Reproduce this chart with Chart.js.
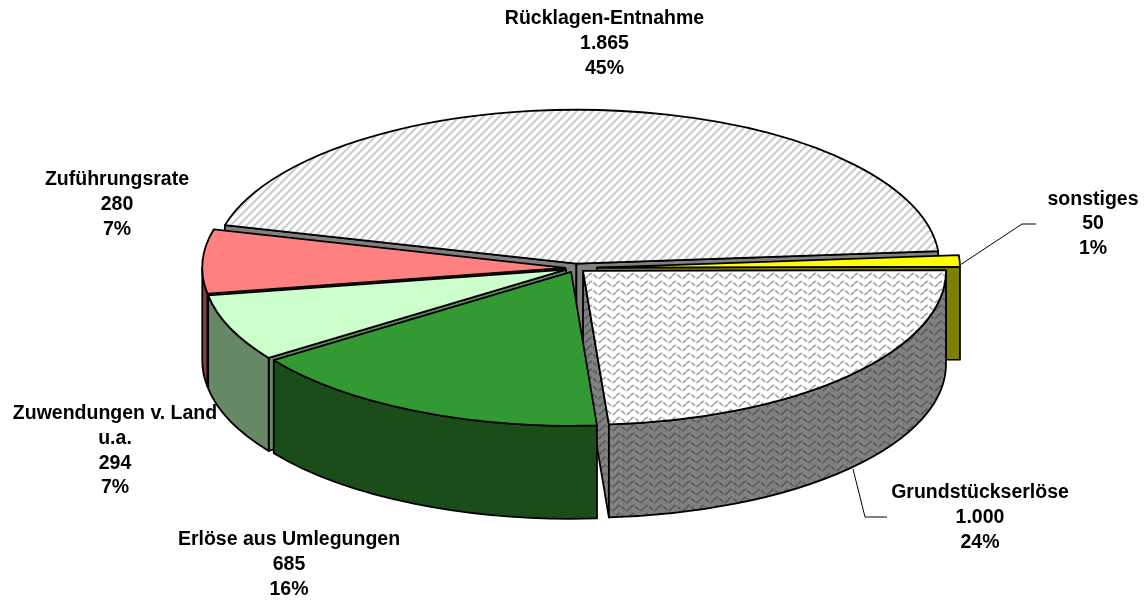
<!DOCTYPE html>
<html>
<head>
<meta charset="utf-8">
<title>Einnahmen</title>
<script src="https://cdn.jsdelivr.net/npm/chart.js@4"></script>
<style>
  body { margin: 0; background: #fff; }
  #wrap { width: 1146px; height: 601px; position: relative; }
</style>
</head>
<body>
<div id="wrap"><canvas id="pie"></canvas></div>
<script>
const sliceNames = ['Rücklagen-Entnahme', 'sonstiges', 'Grundstückserlöse', 'Erlöse aus Umlegungen', 'Zuwendungen v. Land u.a.', 'Zuführungsrate'];
const sliceValues = [1865, 50, 1000, 685, 294, 280];
const labelLines = [['Rücklagen-Entnahme'], ['sonstiges'], ['Grundstückserlöse'], ['Erlöse aus Umlegungen'], ['Zuwendungen v. Land', 'u.a.'], ['Zuführungsrate']];
const labelAnchors = [[604.5, 19], [1093, 199.5], [980, 493], [289, 540], [115, 414], [117, 180]];
const topColors = ['hatch', '#ffff00', 'waveLight', '#339933', '#ccffcc', '#ff8080'];
const sideColors = ['#808080', '#808000', 'waveDark', '#1a4d1a', '#668866', '#804040'];
const explode = [41, 86, 41, 41, 41, 41];

const tilt = 0.424;
const depth = 93;
const LINE_H = 24.6;

function makePattern(ctx, w, h, bg, draw) {
  const c = document.createElement('canvas');
  c.width = w;
  c.height = h;
  const g = c.getContext('2d');
  g.fillStyle = bg;
  g.fillRect(0, 0, w, h);
  draw(g);
  return ctx.createPattern(c, 'repeat');
}

function wave(g, color) {
  g.strokeStyle = color;
  g.lineWidth = 1.7;
  g.setLineDash([5, 1.6]);
  g.beginPath();
  g.moveTo(0, 4);
  g.bezierCurveTo(3.5, 0.5, 3.5, 0.5, 7, 4);
  g.bezierCurveTo(10.5, 7.5, 10.5, 7.5, 14, 4);
  g.stroke();
}

function getFills(ctx) {
  return {
    hatch: makePattern(ctx, 8, 8, '#ffffff', g => {
      g.strokeStyle = '#cccccc';
      g.lineWidth = 2.2;
      g.beginPath();
      g.moveTo(-2, 10); g.lineTo(10, -2);
      g.moveTo(-6, 6); g.lineTo(6, -6);
      g.moveTo(2, 14); g.lineTo(14, 2);
      g.stroke();
    }),
    waveLight: makePattern(ctx, 14, 8, '#ffffff', g => wave(g, '#a0a0a0')),
    waveDark: makePattern(ctx, 14, 8, '#808080', g => wave(g, '#585858'))
  };
}

const pie3d = {
  id: 'pie3d',
  beforeDatasetDraw(chart) {
    const ctx = chart.ctx;
    const fills = getFills(ctx);
    const paint = c => fills[c] || c;
    const arcs = chart.getDatasetMeta(0).data;

    const parts = arcs.map((arc, i) => {
      const p = arc.getProps(['x', 'y', 'startAngle', 'endAngle', 'outerRadius'], true);
      const mid = (p.startAngle + p.endAngle) / 2;
      const off = arc.options.offset / 4;
      return {
        i,
        start: p.startAngle,
        end: p.endAngle,
        mid,
        r: p.outerRadius,
        cx: p.x + Math.cos(mid) * off,
        cy: p.y + Math.sin(mid) * off * tilt,
        sort: Math.sin(mid)
      };
    }).sort((a, b) => a.sort - b.sort);

    const outline = (fill) => {
      ctx.fillStyle = fill;
      ctx.fill();
      ctx.strokeStyle = '#000';
      ctx.lineWidth = 1.8;
      ctx.lineJoin = 'round';
      ctx.stroke();
    };

    const ellipsePath = (p, from, to, dy, ccw) => {
      ctx.ellipse(p.cx, p.cy + dy, p.r, p.r * tilt, 0, from, to, ccw);
    };

    const rimPoint = (p, a) => [p.cx + Math.cos(a) * p.r, p.cy + Math.sin(a) * p.r * tilt];

    const face = (p, a, fill) => {
      const [x, y] = rimPoint(p, a);
      ctx.beginPath();
      ctx.moveTo(p.cx, p.cy);
      ctx.lineTo(x, y);
      ctx.lineTo(x, y + depth);
      ctx.lineTo(p.cx, p.cy + depth);
      ctx.closePath();
      outline(fill);
    };

    parts.forEach(p => {
      const side = paint(sideColors[p.i]);
      // cut faces, only the ones turned towards the viewer
      if (Math.sin(p.start - Math.PI / 2) > 0) face(p, p.start, side);
      if (Math.sin(p.end + Math.PI / 2) > 0) face(p, p.end, side);

      // outer wall, front half only
      const norm = a => Math.atan2(Math.sin(a), Math.cos(a));
      let from = p.start, to = p.end;
      if (norm(p.mid) < 0 && Math.sin(from) < 0 && Math.sin(to) < 0) from = to = 0;
      if (from !== to) {
        if (Math.sin(from) < 0) from = 0;
        if (to > Math.PI) to = Math.PI;
        ctx.beginPath();
        ellipsePath(p, from, to, 0, false);
        ellipsePath(p, to, from, depth, true);
        ctx.closePath();
        outline(side);
      }

      ctx.beginPath();
      ctx.moveTo(p.cx, p.cy);
      ellipsePath(p, p.start, p.end, 0, false);
      ctx.closePath();
      outline(paint(topColors[p.i]));
    });
    return false;
  },
  afterDraw(chart) {
    const ctx = chart.ctx;
    const total = sliceValues.reduce((a, b) => a + b, 0);

    // leader lines
    ctx.strokeStyle = '#000';
    ctx.lineWidth = 1;
    ctx.beginPath();
    ctx.moveTo(960, 265); ctx.lineTo(1022, 224); ctx.lineTo(1036, 224);
    ctx.moveTo(853, 469); ctx.lineTo(865, 517); ctx.lineTo(887, 517);
    ctx.stroke();

    ctx.fillStyle = '#000';
    ctx.font = 'bold 19.5px "Liberation Sans", Arial, sans-serif';
    ctx.textAlign = 'center';
    ctx.textBaseline = 'middle';
    sliceNames.forEach((name, i) => {
      const lines = labelLines[i].concat([
        sliceValues[i].toLocaleString('de-DE'),
        Math.round(sliceValues[i] / total * 100) + '%'
      ]);
      lines.forEach((txt, k) => {
        ctx.fillText(txt, labelAnchors[i][0], labelAnchors[i][1] + k * LINE_H);
      });
    });
  }
};

new Chart(document.getElementById('pie'), {
  type: 'pie',
  data: {
    labels: sliceNames,
    datasets: [{
      data: sliceValues,
      offset: explode,
      borderWidth: 0
    }]
  },
  options: {
    responsive: true,
    maintainAspectRatio: false,
    animation: false,
    rotation: -75.5,
    radius: 363,
    layout: { padding: { left: 5, bottom: 65 } },
    plugins: {
      legend: { display: false },
      tooltip: { enabled: false }
    }
  },
  plugins: [pie3d]
});
</script>
</body>
</html>
